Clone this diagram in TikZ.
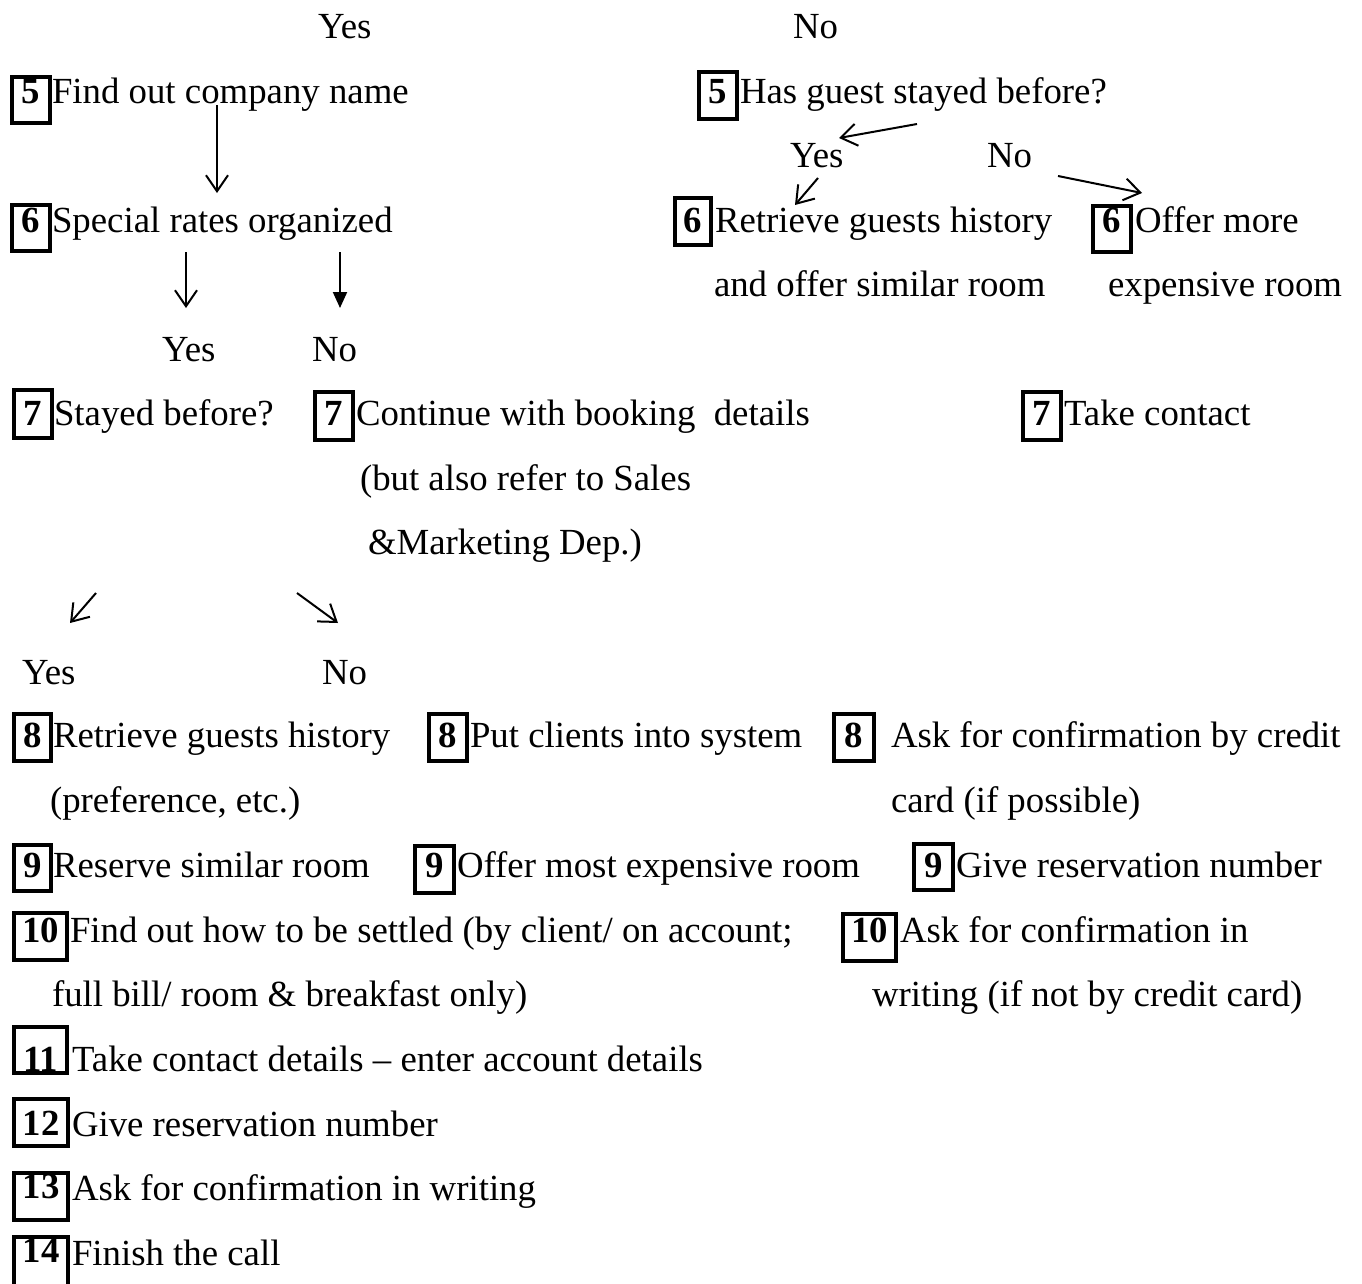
\documentclass[tikz,border=0pt]{standalone}
\usepackage{fontspec}
\setmainfont{Liberation Serif}
\usetikzlibrary{arrows.meta}
\tikzset{
  txt/.style={anchor=base west, inner sep=0pt, outer sep=0pt, font=\fontsize{36.8pt}{44pt}\selectfont},
  dig/.style={anchor=base, inner sep=0pt, outer sep=0pt, font=\fontsize{36.8pt}{44pt}\selectfont\bfseries},
  boxline/.style={line width=4pt},
  openarr/.style={line width=2pt, -{Straight Barb[length=16pt,width=22pt,line width=2pt]}},
  fillarr/.style={line width=2pt, -{Triangle[length=16pt,width=14pt]}},
}
% #1 name, #2 x left, #3 top, #4 x right, #5 bottom, #6 digits, #7 digit baseline
\newcommand{\numbox}[7]{%
  \node[dig] (#1) at ({(#2+#4)/2},#7) {#6};
  \draw[boxline] (#2+2,#3+2) rectangle (#4-2,#5-2);}
\begin{document}
\begin{tikzpicture}[x=1pt,y=-1pt]
\useasboundingbox[fill=white] (0,0) rectangle (1362,1283);

% Row 1
\node[txt] (yesA) at (318,38.4) {Yes};
\node[txt] (noA) at (793,38.4) {No};

% Row 2
\numbox{b5l}{10}{75}{52}{125}{5}{103}
\node[txt] (t5l) at (52,103) {Find out company name};
\numbox{b5r}{697}{70}{739}{121}{5}{103}
\node[txt] (t5r) at (740,103) {Has guest stayed before?};

% Row 3
\node[txt] (yesB) at (790,167.6) {Yes};
\node[txt] (noB) at (987,167.6) {No};

% Row 4
\numbox{b6l}{10}{203}{52}{253}{6}{232.1}
\node[txt] (t6l) at (52,232.1) {Special rates organized};
\numbox{b6r}{673}{196}{713}{247}{6}{232.1}
\node[txt] (t6r) at (715,232.1) {Retrieve guests history};
\numbox{b6x}{1091}{204}{1133}{254}{6}{232.1}
\node[txt] (t6x) at (1135,232.1) {Offer more};

% Row 5
\node[txt] (t6rb) at (714,296.7) {and offer similar room};
\node[txt] (t6xb) at (1108,296.7) {expensive room};

% Row 6
\node[txt] (yesC) at (162,361.2) {Yes};
\node[txt] (noC) at (312,361.2) {No};

% Row 7
\numbox{b7l}{12}{388}{54}{440}{7}{425.8}
\node[txt] (t7l) at (54,425.8) {Stayed before?};
\numbox{b7m}{313}{390}{355}{442}{7}{425.8}
\node[txt] (t7m) at (356,425.8) {Continue with booking\ \ details};
\numbox{b7r}{1021}{390}{1063}{442}{7}{425.8}
\node[txt] (t7r) at (1064,425.8) {Take contact};

% Rows 8-9
\node[txt] (t7mb) at (360,490.4) {(but also refer to Sales};
\node[txt] (t7mc) at (368,554.9) {\&Marketing Dep.)};

% Row 11
\node[txt] (yesD) at (22,684) {Yes};
\node[txt] (noD) at (322,684) {No};

% Row 12
\numbox{b8l}{12}{712}{53}{763}{8}{747}
\node[txt] (t8l) at (53,747) {Retrieve guests history};
\numbox{b8m}{427}{712}{469}{763}{8}{747}
\node[txt] (t8m) at (470,747) {Put clients into system};
\numbox{b8r}{832}{712}{876}{763}{8}{747}
\node[txt] (t8r) at (891,747) {Ask for confirmation by credit};

% Row 13
\node[txt] (t8lb) at (50,812) {(preference, etc.)};
\node[txt] (t8rb) at (891,812) {card (if possible)};

% Row 14
\numbox{b9l}{12}{843}{53}{893}{9}{877.7}
\node[txt] (t9l) at (53,877.7) {Reserve similar room};
\numbox{b9m}{413}{844}{456}{895}{9}{877.7}
\node[txt] (t9m) at (457,877.7) {Offer most expensive room};
\numbox{b9r}{912}{842}{955}{892}{9}{877.7}
\node[txt] (t9r) at (956,877.7) {Give reservation number};

% Row 15
\numbox{b10l}{12}{911}{69}{962}{10}{942.3}
\node[txt] (t10l) at (70,942.3) {Find out how to be settled (by client/ on account;};
\numbox{b10r}{841}{912}{898}{963}{10}{942.3}
\node[txt] (t10r) at (900,942.3) {Ask for confirmation in};

% Row 16
\node[txt] (t10lb) at (52,1006.8) {full bill/ room \& breakfast only)};
\node[txt] (t10rb) at (872,1006.8) {writing (if not by credit card)};

% Rows 17-20
\numbox{b11}{12}{1025}{69}{1075}{11}{1071.4}
\node[txt] (t11) at (72,1071.4) {Take contact details -- enter account details};
\numbox{b12}{12}{1097}{70}{1148}{12}{1135}
\node[txt] (t12) at (72,1136) {Give reservation number};
\numbox{b13}{12}{1171}{70}{1222}{13}{1198}
\node[txt] (t13) at (72,1200.5) {Ask for confirmation in writing};
\numbox{b14}{12}{1235}{70}{1292}{14}{1262}
\node[txt] (t14) at (72,1265) {Finish the call};

% Arrow end points
\coordinate (a1s) at (217,105);  \coordinate (a1e) at (217,193);
\coordinate (a2s) at (186,252);  \coordinate (a2e) at (186,308);
\coordinate (a3s) at (340,252);  \coordinate (a3e) at (340,308);
\coordinate (a4s) at (917,124);  \coordinate (a4e) at (839,138);
\coordinate (a5s) at (818,178);  \coordinate (a5e) at (795,205);
\coordinate (a6s) at (1058,176); \coordinate (a6e) at (1142,193);
\coordinate (a7s) at (96,593);   \coordinate (a7e) at (70,623);
\coordinate (a8s) at (297,593);  \coordinate (a8e) at (338,623);

\draw[openarr] (a1s) -- (a1e);
\draw[openarr] (a2s) -- (a2e);
\draw[fillarr] (a3s) -- (a3e);
\draw[openarr] (a4s) -- (a4e);
\draw[openarr] (a5s) -- (a5e);
\draw[openarr] (a6s) -- (a6e);
\draw[openarr] (a7s) -- (a7e);
\draw[openarr] (a8s) -- (a8e);
\end{tikzpicture}
\end{document}
